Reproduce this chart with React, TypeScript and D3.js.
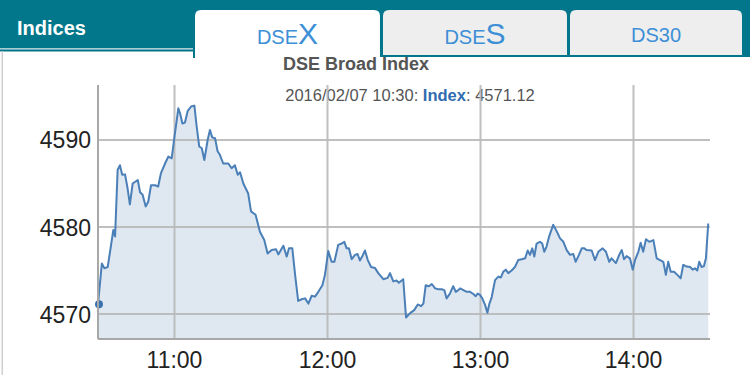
import React from "react";
import * as d3 from "d3";

// minutes after 10:30 on 2016/02/07
const minutes = [
  0, 1.5, 2.5, 3.8, 5.1, 6.0, 6.7, 7.7, 8.6, 9.5, 10.6, 11.6, 12.5, 13.6, 15.6, 16.5, 17.5, 18.7, 19.7, 20.8,
  22.4, 23.6, 24.7, 26.3, 27.6, 28.9, 29.9, 30.9, 31.5, 32.2, 33.1, 34.1, 35.2, 36.5, 37.8, 38.7, 39.7, 40.7, 41.7, 43.0,
  43.9, 44.8, 45.9, 46.9, 47.8, 49.1, 51.1, 52.4, 53.7, 54.8, 55.7, 57.0, 58.9, 60.0, 61.8, 63.5, 65.2, 66.5, 68.1, 69.8,
  70.7, 72.7, 74.0, 74.9, 76.2, 77.3, 78.5, 79.9, 81.2, 82.5, 83.8, 85.1, 86.4, 88.0, 89.0, 90.3, 91.6, 92.7, 94.2, 95.6,
  96.6, 97.5, 98.4, 99.5, 100.8, 101.8, 102.7, 103.6, 104.7, 105.8, 107.1, 108.6, 109.9, 111.9, 113.6, 114.5, 115.8, 117.1, 118.0, 119.7,
  120.8, 122.4, 124.0, 125.4, 126.7, 127.6, 128.5, 129.8, 130.9, 132.2, 133.5, 134.8, 135.8, 136.7, 138.0, 139.3, 140.3, 141.3, 142.0, 143.3,
  144.6, 145.9, 147.2, 148.1, 148.9, 149.8, 150.7, 151.8, 152.7, 153.5, 154.4, 155.7, 157.0, 158.0, 158.9, 159.9, 160.9, 162.2, 163.5, 164.8,
  166.2, 167.5, 168.5, 169.4, 170.3, 171.1, 172.0, 173.3, 174.2, 175.0, 175.9, 176.9, 178.5, 179.9, 181.2, 182.5, 183.8, 185.1, 186.4, 187.3,
  188.6, 189.7, 190.7, 191.6, 193.6, 194.9, 196.2, 197.9, 199.2, 200.5, 201.4, 203.1, 204.4, 205.4, 206.3, 207.3, 208.6, 209.7, 210.6, 211.9,
  212.8, 213.8, 214.9, 216.2, 217.8, 219.1, 220.4, 221.7, 222.7, 223.6, 224.6, 225.9, 227.2, 228.5, 229.5, 230.9, 232.2, 233.2, 234.1, 235.0,
  235.8, 236.7, 237.6, 238.4, 239.3,
];

const indexValues = [
  4571.12, 4575.8, 4575.25, 4575.4, 4577.9, 4579.65, 4578.9, 4586.55, 4587.1, 4586.0, 4586.05, 4584.45, 4582.6, 4585.0, 4585.4, 4584.0, 4583.7, 4582.35, 4582.9, 4584.8,
  4584.8, 4584.65, 4586.2, 4587.3, 4588.1, 4587.9, 4590.2, 4592.3, 4593.65, 4593.05, 4591.9, 4592.0, 4593.35, 4593.85, 4593.95, 4591.55, 4589.25, 4589.05, 4587.7, 4590.0,
  4591.15, 4590.3, 4590.2, 4588.7, 4588.3, 4587.3, 4587.3, 4586.75, 4587.1, 4586.0, 4586.3, 4585.0, 4583.85, 4581.8, 4581.4, 4579.45, 4578.5, 4576.95, 4577.35, 4577.45,
  4576.85, 4577.85, 4576.6, 4577.55, 4577.55, 4574.5, 4571.5, 4571.7, 4571.8, 4571.2, 4572.1, 4572.0, 4572.55, 4573.3, 4574.5, 4577.25, 4576.0, 4576.0, 4577.95, 4578.1,
  4578.3, 4577.55, 4577.55, 4576.3, 4576.8, 4576.9, 4576.15, 4576.6, 4577.3, 4576.2, 4575.4, 4575.3, 4574.7, 4574.0, 4574.15, 4574.7, 4573.75, 4573.85, 4573.6, 4574.0,
  4569.6, 4570.1, 4570.45, 4571.1, 4570.9, 4571.2, 4573.3, 4573.2, 4573.45, 4572.95, 4572.85, 4572.85, 4572.75, 4571.8, 4572.35, 4573.2, 4572.55, 4572.75, 4572.95, 4572.75,
  4572.55, 4572.55, 4572.3, 4572.05, 4572.35, 4572.2, 4571.8, 4571.05, 4570.15, 4571.2, 4571.95, 4573.9, 4574.3, 4574.2, 4574.85, 4575.1, 4574.7, 4575.0, 4575.4, 4576.2,
  4576.3, 4576.4, 4577.3, 4576.8, 4577.55, 4576.6, 4578.1, 4578.3, 4578.1, 4577.15, 4577.75, 4578.9, 4580.25, 4579.5, 4578.7, 4578.3, 4577.35, 4576.8, 4576.9, 4576.0,
  4576.8, 4577.55, 4577.55, 4577.35, 4577.3, 4576.2, 4577.15, 4577.55, 4577.15, 4576.0, 4576.4, 4575.85, 4576.8, 4577.35, 4576.3, 4576.65, 4576.4, 4575.1, 4576.2, 4577.15,
  4578.2, 4577.15, 4578.6, 4578.3, 4578.5, 4576.4, 4576.2, 4576.0, 4574.5, 4576.0, 4574.85, 4574.85, 4574.5, 4574.1, 4575.65, 4575.45, 4575.4, 4575.1, 4575.25, 4575.0,
  4576.0, 4575.4, 4575.5, 4576.4, 4580.4,
];

const yTicks = [4570, 4580, 4590];
const xTickLabels = ["11:00", "12:00", "13:00", "14:00"];
const tabs = ["DSEX", "DSES", "DS30"];

const titleText = "DSE Broad Index";
const tooltipDate = "2016/02/07 10:30";
const tooltipValue = "4571.12";

const base = new Date(2016, 1, 7, 10, 30, 0);
const toDate = (m: number) => new Date(base.getTime() + m * 60000);
const parseHM = (s: string) => {
  const [h, mm] = s.split(":").map(Number);
  return new Date(2016, 1, 7, h, mm, 0);
};

const TEAL = "#02778b";
const FONT = "'Liberation Sans', Arial, sans-serif";

export default function App() {
  const W = 750;
  const H = 390;
  const left = 98;
  const right = 710;
  const top = 85;
  const bottom = 339;

  const x = d3
    .scaleTime()
    .domain([base, toDate(240)])
    .range([left, right]);
  const y = d3.scaleLinear().domain([4567.13, 4596.32]).range([bottom, top]);

  const data = minutes.map((m, i) => ({ t: toDate(m), v: indexValues[i] }));
  const line = d3
    .line<{ t: Date; v: number }>()
    .x((d) => x(d.t))
    .y((d) => y(d.v));
  const area = d3
    .area<{ t: Date; v: number }>()
    .x((d) => x(d.t))
    .y0(bottom)
    .y1((d) => y(d.v));

  const tabX = [195, 383, 570];
  const tabW = [185, 184, 172];

  return (
    <svg
      width={W}
      height={H}
      style={{ position: "absolute", left: 0, top: 0, display: "block" }}
      fontFamily={FONT}
    >
      <rect x={0} y={0} width={W} height={H} fill="#fff" />
      {/* header band */}
      <rect x={0} y={0} width={W} height={48} fill={TEAL} />
      <rect x={0} y={48} width={194} height={1.5} fill="#a9cdd3" />
      <rect x={0} y={49.5} width={194} height={2} fill={TEAL} />
      <rect x={380} y={0} width={370} height={57} fill={TEAL} />
      <rect x={193} y={0} width={2.5} height={58} fill={TEAL} />
      <text x={17} y={35} fill="#fff" fontWeight="bold" fontSize={20}>
        Indices
      </text>
      {/* tabs */}
      {tabs.map((t, i) => {
        const tx = tabX[i];
        const tw = tabW[i];
        const active = i === 0;
        const h = active ? 60 : 45;
        const r = 6;
        const d = `M${tx},${10 + h} L${tx},${10 + r} Q${tx},10 ${tx + r},10 L${tx + tw - r},10 Q${tx + tw},10 ${tx + tw},${10 + r} L${tx + tw},${10 + h} Z`;
        const cx = tx + tw / 2;
        return (
          <g key={t}>
            <path d={d} fill={active ? "#fff" : "#eeeeee"} />
            {t === "DS30" ? (
              <text x={cx} y={42} textAnchor="middle" fill="#3d8fd6" fontSize={20}>
                DS30
              </text>
            ) : (
              <text x={cx} y={44} textAnchor="middle" fill="#3d8fd6" fontSize={20}>
                {t.slice(0, 3)}
                <tspan fontSize={30}>{t.slice(3)}</tspan>
              </text>
            )}
          </g>
        );
      })}
      {/* left border */}
      <rect x={1.5} y={51} width={1.5} height={324} fill="#cfcfcf" />

      {/* title */}
      <text x={356} y={70} textAnchor="middle" fill="#555" fontWeight="bold" fontSize={18}>
        {titleText}
      </text>
      <text x={410} y={101} textAnchor="middle" fill="#555" fontSize={16.5}>
        {tooltipDate}:{" "}
        <tspan fill="#2f6cb0" fontWeight="bold">
          Index
        </tspan>
        : {tooltipValue}
      </text>

      {/* area */}
      <path d={area(data) || ""} fill="#dfe7f1" />

      {/* grid (drawn over the fill) */}
      {yTicks.map((v) => (
        <line key={v} x1={left} x2={right} y1={y(v)} y2={y(v)} stroke="#b8b8b8" strokeOpacity={0.9} strokeWidth={2} />
      ))}
      {xTickLabels.map((s) => (
        <line key={s} x1={x(parseHM(s))} x2={x(parseHM(s))} y1={top} y2={bottom} stroke="#b8b8b8" strokeOpacity={0.9} strokeWidth={2} />
      ))}

      {/* line */}
      <path d={line(data) || ""} fill="none" stroke="#4a7fb7" strokeWidth={2} strokeLinejoin="round" />
      <circle cx={x(data[0].t) + 1} cy={y(data[0].v)} r={4} fill="#3a72b0" />

      {/* axes */}
      <line x1={left} x2={left} y1={top} y2={bottom} stroke="#a8a8a8" strokeWidth={2} />
      <line x1={left} x2={right} y1={bottom} y2={bottom} stroke="#a8a8a8" strokeWidth={2} />

      {yTicks.map((v) => (
        <text key={v} x={91} y={y(v) + 8.5} textAnchor="end" fill="#222" fontSize={23}>
          {v}
        </text>
      ))}
      {xTickLabels.map((s) => (
        <text key={s} x={x(parseHM(s))} y={368} textAnchor="middle" fill="#222" fontSize={23}>
          {s}
        </text>
      ))}
    </svg>
  );
}
